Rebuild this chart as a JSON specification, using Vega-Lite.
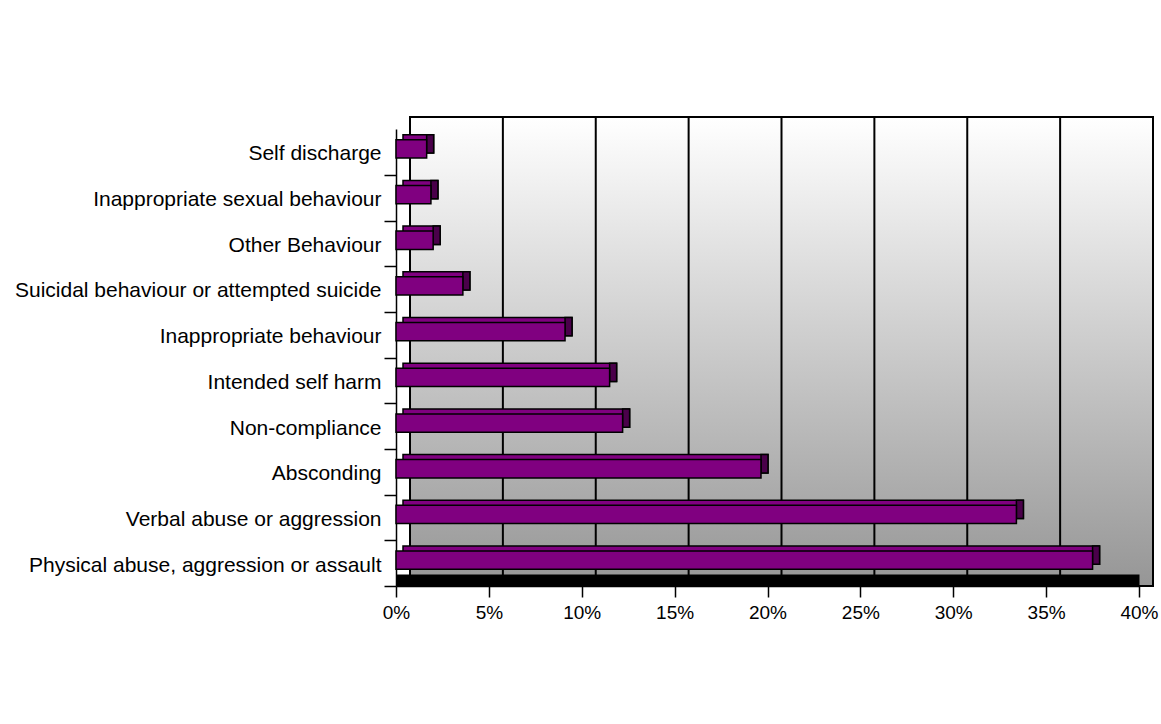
{
  "$schema": "https://vega.github.io/schema/vega-lite/v6.json",
  "width": 743,
  "height": 457,
  "autosize": {"type": "none"},
  "padding": {"left": 396, "top": 129, "right": 22, "bottom": 138},
  "background": "#ffffff",
  "config": {
    "view": {"stroke": null},
    "font": "Liberation Sans"
  },
  "datasets": {
    "incidents": [
      {"category": "Self discharge", "share": 0.0165},
      {"category": "Inappropriate sexual behaviour", "share": 0.0188},
      {"category": "Other Behaviour", "share": 0.02},
      {"category": "Suicidal behaviour or attempted suicide", "share": 0.036},
      {"category": "Inappropriate behaviour", "share": 0.091},
      {"category": "Intended self harm", "share": 0.115},
      {"category": "Non-compliance", "share": 0.122},
      {"category": "Absconding", "share": 0.1965},
      {"category": "Verbal abuse or aggression", "share": 0.334},
      {"category": "Physical abuse, aggression or assault", "share": 0.375}
    ],
    "grid": [
      {"g": 0.05}, {"g": 0.1}, {"g": 0.15}, {"g": 0.2}, {"g": 0.25}, {"g": 0.3}, {"g": 0.35}
    ]
  },
  "resolve": {"axis": {"x": "independent"}},
  "layer": [
    {
      "data": {"name": "incidents"},
      "mark": {
        "type": "rect",
        "xOffset": 14, "x2Offset": 14, "yOffset": -12, "y2Offset": -12,
        "stroke": "#000000", "strokeWidth": 2,
        "fill": {
          "gradient": "linear", "x1": 0, "y1": 0, "x2": 0, "y2": 1,
          "stops": [{"offset": 0, "color": "#ffffff"}, {"offset": 1, "color": "#969696"}]
        }
      },
      "encoding": {
        "x": {"datum": 0, "type": "quantitative", "scale": {"domain": [0, 0.4]},
              "axis": {"orient": "bottom", "zindex": 1, "domain": true, "domainWidth": 12, "domainColor": "#000000", "offset": -6, "ticks": false, "labels": false, "grid": false, "title": null}},
        "x2": {"datum": 0.4}
      }
    },
    {
      "data": {"name": "grid"},
      "mark": {"type": "rule", "xOffset": 14, "yOffset": -12, "y2Offset": -12, "color": "#000000", "strokeWidth": 2},
      "encoding": {
        "x": {"field": "g", "type": "quantitative", "axis": null}
      }
    },
    {
      "data": {"name": "incidents"},
      "mark": {"type": "bar", "xOffset": 7, "x2Offset": 7, "yOffset": -8, "fill": "#800080", "stroke": "#000000", "strokeWidth": 1.5},
      "encoding": {
        "y": {"field": "category", "type": "nominal", "sort": null,
              "scale": {"paddingInner": 0.6, "paddingOuter": 0.3}},
        "x": {"field": "share", "type": "quantitative", "axis": null}
      }
    },
    {
      "data": {"name": "incidents"},
      "mark": {"type": "bar", "xOffset": 0, "x2Offset": 7, "yOffset": -8, "fill": "#4a004a", "stroke": "#000000", "strokeWidth": 1.5},
      "encoding": {
        "y": {"field": "category", "type": "nominal", "sort": null},
        "x": {"field": "share", "type": "quantitative", "axis": null},
        "x2": {"field": "share"}
      }
    },
    {
      "data": {"name": "incidents"},
      "mark": {"type": "bar", "yOffset": -3, "fill": "#800080", "stroke": "#000000", "strokeWidth": 1.5},
      "encoding": {
        "y": {"field": "category", "type": "nominal", "sort": null,
              "axis": {"title": null, "orient": "left", "tickOffset": 23, "labelOffset": -21, "tickSize": 12, "tickColor": "#000000", "tickWidth": 1.5,
                       "domainColor": "#000000", "domainWidth": 1.5, "labelFontSize": 21, "labelColor": "#000000",
                       "labelPadding": 3, "labelFont": "Liberation Sans", "labelLimit": 500}},
        "x": {"field": "share", "type": "quantitative",
              "axis": {"title": null, "orient": "bottom", "format": ".0%", "values": [0, 0.05, 0.1, 0.15, 0.2, 0.25, 0.3, 0.35, 0.4],
                       "tickSize": 11, "tickColor": "#000000", "tickWidth": 1.5, "domainColor": "#000000", "domainWidth": 1.5,
                       "labelFontSize": 19, "labelColor": "#000000", "labelPadding": 6, "labelFont": "Liberation Sans",
                       "grid": false, "labelFlush": false, "zindex": 1}}
      }
    }
  ]
}
